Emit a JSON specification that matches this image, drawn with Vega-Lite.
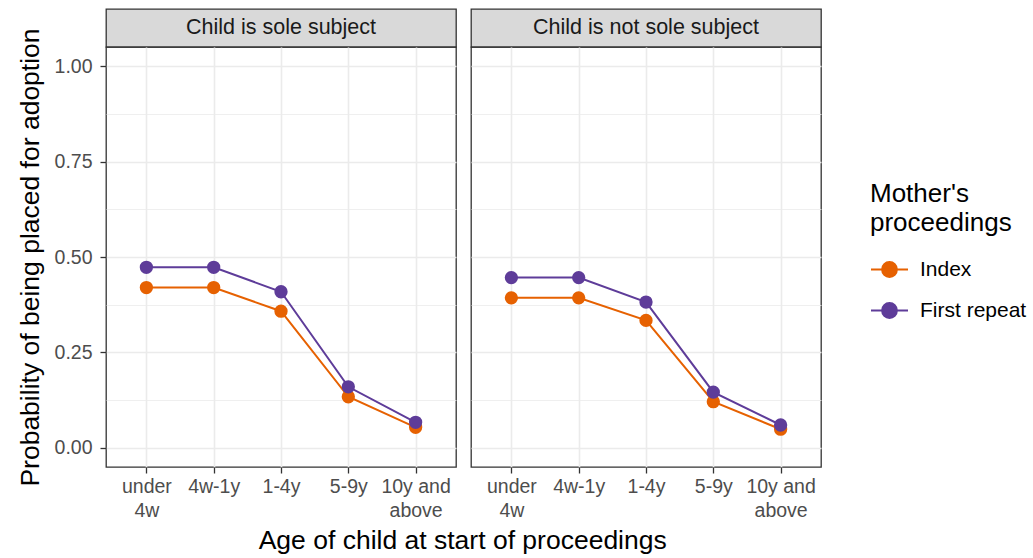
{
  "$schema": "https://vega.github.io/schema/vega-lite/v6.json",
  "background": "white",
  "padding": {"left": 16, "top": 8, "right": 0, "bottom": 2},
  "datasets": {
    "probs": [
      {"panel": "Child is sole subject", "age": "under 4w", "proceedings": "Index", "prob": 0.420},
      {"panel": "Child is sole subject", "age": "4w-1y", "proceedings": "Index", "prob": 0.420},
      {"panel": "Child is sole subject", "age": "1-4y", "proceedings": "Index", "prob": 0.358},
      {"panel": "Child is sole subject", "age": "5-9y", "proceedings": "Index", "prob": 0.134},
      {"panel": "Child is sole subject", "age": "10y and above", "proceedings": "Index", "prob": 0.054},
      {"panel": "Child is sole subject", "age": "under 4w", "proceedings": "First repeat", "prob": 0.473},
      {"panel": "Child is sole subject", "age": "4w-1y", "proceedings": "First repeat", "prob": 0.473},
      {"panel": "Child is sole subject", "age": "1-4y", "proceedings": "First repeat", "prob": 0.409},
      {"panel": "Child is sole subject", "age": "5-9y", "proceedings": "First repeat", "prob": 0.160},
      {"panel": "Child is sole subject", "age": "10y and above", "proceedings": "First repeat", "prob": 0.067},
      {"panel": "Child is not sole subject", "age": "under 4w", "proceedings": "Index", "prob": 0.393},
      {"panel": "Child is not sole subject", "age": "4w-1y", "proceedings": "Index", "prob": 0.393},
      {"panel": "Child is not sole subject", "age": "1-4y", "proceedings": "Index", "prob": 0.334},
      {"panel": "Child is not sole subject", "age": "5-9y", "proceedings": "Index", "prob": 0.121},
      {"panel": "Child is not sole subject", "age": "10y and above", "proceedings": "Index", "prob": 0.049},
      {"panel": "Child is not sole subject", "age": "under 4w", "proceedings": "First repeat", "prob": 0.446},
      {"panel": "Child is not sole subject", "age": "4w-1y", "proceedings": "First repeat", "prob": 0.446},
      {"panel": "Child is not sole subject", "age": "1-4y", "proceedings": "First repeat", "prob": 0.382},
      {"panel": "Child is not sole subject", "age": "5-9y", "proceedings": "First repeat", "prob": 0.146},
      {"panel": "Child is not sole subject", "age": "10y and above", "proceedings": "First repeat", "prob": 0.060}
    ],
    "panels": [
      {"panel": "Child is sole subject"},
      {"panel": "Child is not sole subject"}
    ]
  },
  "config": {
    "font": "Liberation Sans",
    "view": {"stroke": "#333333", "strokeWidth": 1.3},
    "axis": {
      "domain": false,
      "gridColor": "#ebebeb",
      "tickColor": "#333333",
      "tickWidth": 1.3,
      "tickSize": 6,
      "labelFont": "Liberation Sans",
      "labelFontSize": 19.5,
      "labelColor": "#4d4d4d",
      "titleFont": "Liberation Sans",
      "titleFontSize": 26.5,
      "titleFontWeight": "normal",
      "titleColor": "#000000"
    }
  },
  "title": {
    "text": "Age of child at start of proceedings",
    "orient": "bottom",
    "anchor": "middle",
    "fontSize": 26.5,
    "fontWeight": "normal",
    "color": "#000000",
    "font": "Liberation Sans",
    "offset": 8,
    "dx": -59
  },
  "resolve": {"scale": {"color": "shared"}},
  "spacing": 13,
  "hconcat": [
    {
      "spacing": 0,
      "bounds": "flush",
      "vconcat": [
        {
          "width": 350,
          "height": 38,
          "data": {"name": "panels"},
          "transform": [{"filter": "datum.panel == 'Child is sole subject'"}],
          "view": {"fill": "#d9d9d9", "stroke": "#333333", "strokeWidth": 1.3},
          "mark": {"type": "text", "fontSize": 21.5, "color": "#1a1a1a", "font": "Liberation Sans"},
          "encoding": {"text": {"field": "panel", "type": "nominal"}}
        },
        {
          "width": 350,
          "height": 420,
          "data": {"name": "probs"},
          "transform": [{"filter": "datum.panel == 'Child is sole subject'"}],
          "encoding": {
            "x": {
              "field": "age", "type": "ordinal",
              "sort": ["under 4w", "4w-1y", "1-4y", "5-9y", "10y and above"],
              "scale": {"type": "point", "padding": 0.6},
              "axis": {
                "title": null, "labelAngle": 0, "grid": true, "gridWidth": 1.6,
                "labelAlign": "center", "labelBaseline": "top", "labelLineHeight": 24, "labelPadding": 4,
                "labelExpr": "datum.value == 'under 4w' ? ['under', '4w'] : datum.value == '10y and above' ? ['10y and', 'above'] : datum.value"
              }
            },
            "y": {
              "field": "prob", "type": "quantitative",
              "scale": {"domain": [-0.05, 1.05], "nice": false, "zero": false},
              "axis": {
                "title": "Probability of being placed for adoption",
                "values": [0, 0.125, 0.25, 0.375, 0.5, 0.625, 0.75, 0.875, 1],
                "labelExpr": "(datum.value * 4) % 1 == 0 ? format(datum.value, '.2f') : ''",
                "tickOpacity": {"condition": {"test": "(datum.value * 4) % 1 != 0", "value": 0}, "value": 1},
                "gridWidth": {"condition": {"test": "(datum.value * 4) % 1 != 0", "value": 0.8}, "value": 1.6},
                "labelPadding": 8,
                "titlePadding": 10
              }
            },
            "color": {
              "field": "proceedings", "type": "nominal",
              "scale": {"domain": ["Index", "First repeat"], "range": ["#E66101", "#5E3C99"]},
              "legend": {
                "title": ["Mother's", "proceedings"],
                "orient": "none",
                "legendX": 764,
                "legendY": 172,
                "titleFontSize": 26,
                "titleFontWeight": "normal",
                "titleColor": "#000000",
                "titleFont": "Liberation Sans",
                "titleLineHeight": 29,
                "titlePadding": 14,
                "labelFontSize": 21,
                "labelColor": "#000000",
                "labelFont": "Liberation Sans",
                "labelOffset": 11,
                "symbolType": "M-1,0L1,0M-0.4,0a0.4,0.4 0 1,0 0.8,0a0.4,0.4 0 1,0 -0.8,0",
                "symbolSize": 1369,
                "symbolStrokeWidth": 2,
                "rowPadding": 10,
                "padding": 0,
                "encode": {
                  "symbols": {
                    "update": {
                      "fill": {"scale": "color", "field": "value"},
                      "stroke": {"scale": "color", "field": "value"},
                      "fillOpacity": {"value": 1},
                      "opacity": {"value": 1}
                    }
                  }
                }
              }
            }
          },
          "layer": [
            {"mark": {"type": "line", "strokeWidth": 2}},
            {"mark": {"type": "point", "filled": true, "size": 177, "opacity": 1}}
          ]
        }
      ]
    },
    {
      "spacing": 0,
      "bounds": "flush",
      "vconcat": [
        {
          "width": 350,
          "height": 38,
          "data": {"name": "panels"},
          "transform": [{"filter": "datum.panel == 'Child is not sole subject'"}],
          "view": {"fill": "#d9d9d9", "stroke": "#333333", "strokeWidth": 1.3},
          "mark": {"type": "text", "fontSize": 21.5, "color": "#1a1a1a", "font": "Liberation Sans"},
          "encoding": {"text": {"field": "panel", "type": "nominal"}}
        },
        {
          "width": 350,
          "height": 420,
          "data": {"name": "probs"},
          "transform": [{"filter": "datum.panel == 'Child is not sole subject'"}],
          "encoding": {
            "x": {
              "field": "age", "type": "ordinal",
              "sort": ["under 4w", "4w-1y", "1-4y", "5-9y", "10y and above"],
              "scale": {"type": "point", "padding": 0.6},
              "axis": {
                "title": null, "labelAngle": 0, "grid": true, "gridWidth": 1.6,
                "labelAlign": "center", "labelBaseline": "top", "labelLineHeight": 24, "labelPadding": 4,
                "labelExpr": "datum.value == 'under 4w' ? ['under', '4w'] : datum.value == '10y and above' ? ['10y and', 'above'] : datum.value"
              }
            },
            "y": {
              "field": "prob", "type": "quantitative",
              "scale": {"domain": [-0.05, 1.05], "nice": false, "zero": false},
              "axis": {
                "title": null,
                "labels": false,
                "ticks": false,
                "values": [0, 0.125, 0.25, 0.375, 0.5, 0.625, 0.75, 0.875, 1],
                "gridWidth": {"condition": {"test": "(datum.value * 4) % 1 != 0", "value": 0.8}, "value": 1.6}
              }
            },
            "color": {
              "field": "proceedings", "type": "nominal",
              "scale": {"domain": ["Index", "First repeat"], "range": ["#E66101", "#5E3C99"]}
            }
          },
          "layer": [
            {"mark": {"type": "line", "strokeWidth": 2}},
            {"mark": {"type": "point", "filled": true, "size": 177, "opacity": 1}}
          ]
        }
      ]
    }
  ]
}
